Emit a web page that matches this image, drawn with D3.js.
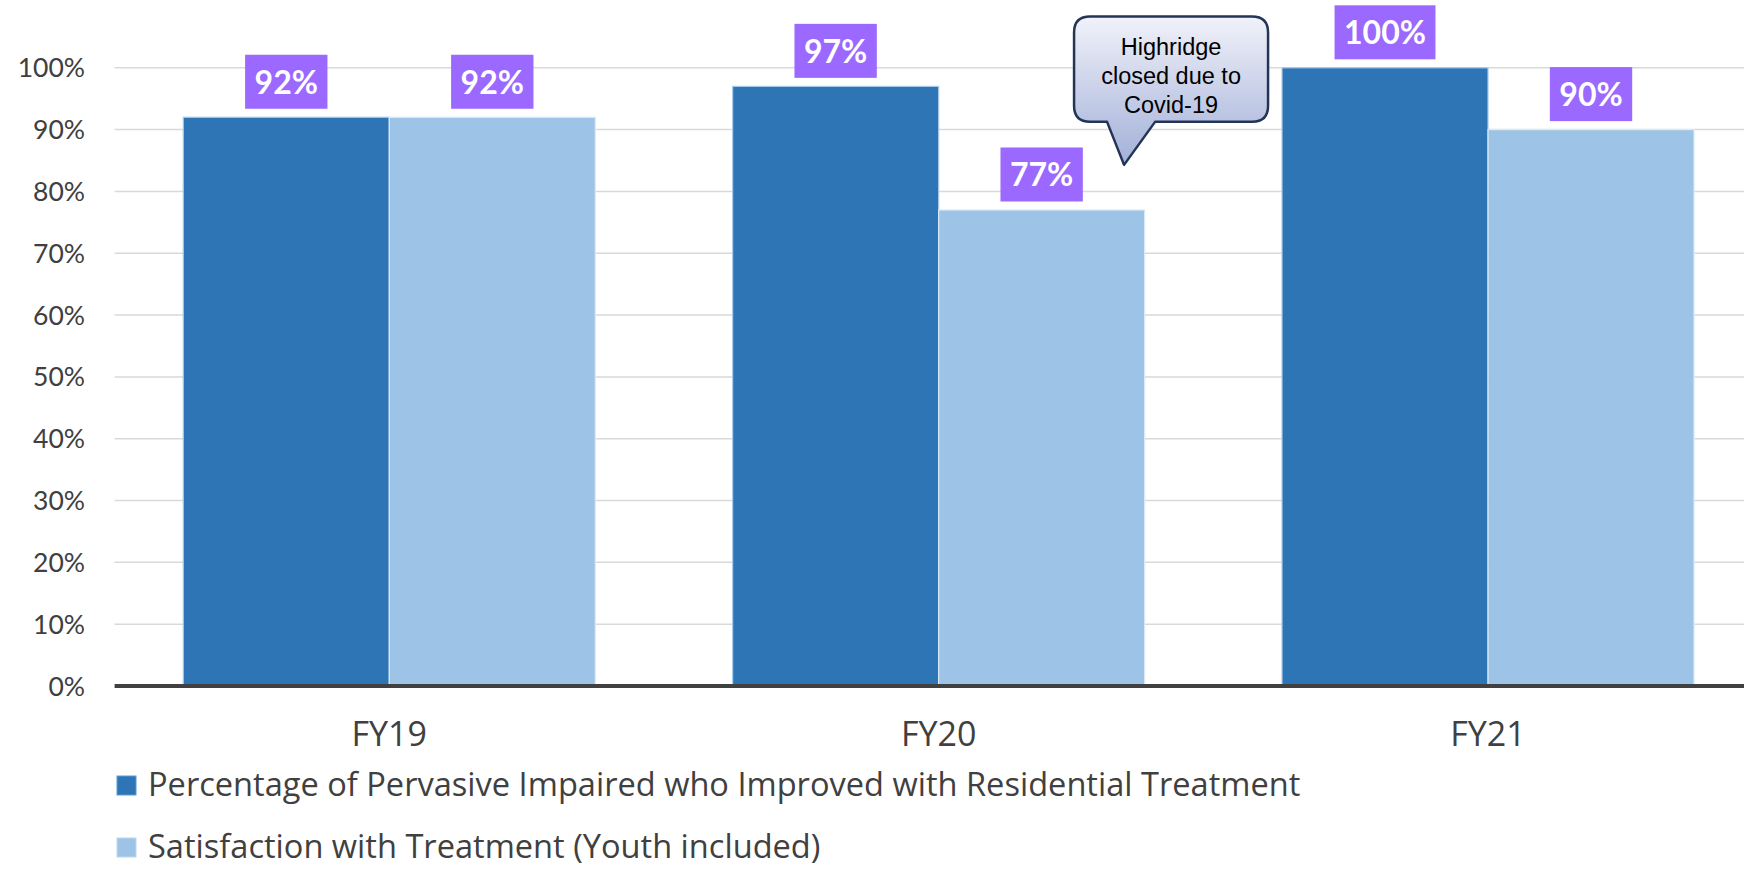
<!DOCTYPE html>
<html><head><meta charset="utf-8">
<script src="https://cdn.jsdelivr.net/npm/d3@7"></script>
<style>body{margin:0;background:#fff;} svg{display:block;}</style>
</head><body>
<svg id="chart" width="1744" height="869"></svg>
<script>
// ---- data ----
const categories = ["FY19", "FY20", "FY21"];
const seriesNames = [
  "Percentage of Pervasive Impaired who Improved with Residential Treatment",
  "Satisfaction with Treatment (Youth included)"
];
const improvedValues = [92, 97, 100];
const satisfactionValues = [92, 77, 90];
const yTicks = [0, 10, 20, 30, 40, 50, 60, 70, 80, 90, 100];
const seriesColors = ["#2E75B6", "#9DC3E6"];
const calloutLines = ["Highridge", "closed due to", "Covid-19"];
const calloutAnchor = { category: "FY20", series: 1, value: 84.3 };

// ---- layout ----
const W = 1744, H = 869;
const plot = { left: 114.6, right: 1762.7, top: 67.8, bottom: 686 };
const font = "Lato, 'Open Sans', sans-serif";
const font2 = "'Open Sans', Lato, sans-serif";
const textColor = "#404040";

const svg = d3.select("#chart");
const seriesValues = [improvedValues, satisfactionValues];

const x0 = d3.scaleBand().domain(categories).range([plot.left, plot.right])
  .paddingInner(0.25).paddingOuter(0.125);
const x1 = d3.scaleBand().domain(d3.range(seriesNames.length)).range([0, x0.bandwidth()]);
const y = d3.scaleLinear().domain([0, 100]).range([plot.bottom, plot.top]);

// gridlines
svg.append("g").selectAll("line").data(yTicks.filter(t => t > 0)).join("line")
  .attr("x1", plot.left).attr("x2", plot.right)
  .attr("y1", d => y(d)).attr("y2", d => y(d))
  .attr("stroke", "#D9D9D9").attr("stroke-width", 1.5);

// y tick labels
svg.append("g").selectAll("text").data(yTicks).join("text")
  .attr("x", plot.left - 29.5).attr("y", d => y(d) + 9.5)
  .attr("text-anchor", "end")
  .attr("font-family", font).attr("font-size", 26.5).attr("fill", textColor)
  .text(d => d + "%");

// bars
const rows = [];
categories.forEach((c, i) => seriesValues.forEach((vals, s) => rows.push({ c, s, v: vals[i] })));

svg.append("g").selectAll("rect").data(rows).join("rect")
  .attr("x", d => x0(d.c) + x1(d.s))
  .attr("y", d => y(d.v))
  .attr("width", x1.bandwidth())
  .attr("height", d => y(0) - y(d.v))
  .attr("fill", d => seriesColors[d.s])
  .attr("stroke", d => d.s === 0 ? "#A9CBEA" : "#DCEAF7")
  .attr("stroke-width", 1.2);

// baseline axis
svg.append("line")
  .attr("x1", plot.left).attr("x2", plot.right)
  .attr("y1", y(0)).attr("y2", y(0))
  .attr("stroke", "#404040").attr("stroke-width", 4);

// x labels
svg.append("g").selectAll("text").data(categories).join("text")
  .attr("x", d => x0(d) + x0.bandwidth() / 2)
  .attr("y", y(0) + 59.7)
  .attr("text-anchor", "middle")
  .attr("font-family", font2).attr("font-size", 34).attr("fill", textColor)
  .text(d => d);

// data labels
const lab = svg.append("g").selectAll("g").data(rows).join("g");
lab.each(function (d) {
  const g = d3.select(this);
  const cx = x0(d.c) + x1(d.s) + x1.bandwidth() / 2;
  const boxBottom = y(d.v) - 8.5;
  const boxTop = boxBottom - 54;
  const rect = g.append("rect").attr("fill", "#9B69FF");
  const t = g.append("text")
    .attr("x", cx).attr("y", boxTop + 38.8)
    .attr("text-anchor", "middle")
    .attr("font-family", font).attr("font-weight", "bold")
    .attr("font-size", 32).attr("fill", "#fff")
    .text(d.v + "%");
  const tw = t.node().getComputedTextLength();
  rect.attr("x", cx - tw / 2 - 9.5).attr("y", boxTop)
    .attr("width", tw + 19).attr("height", 54);
});

// legend
const legend = svg.append("g").selectAll("g").data(seriesNames).join("g")
  .attr("transform", (d, i) => `translate(117,${776 + i * 62})`);
legend.append("rect").attr("width", 19).attr("height", 19)
  .attr("fill", (d, i) => seriesColors[i])
  .attr("stroke", (d, i) => i === 0 ? "#5B9BD5" : "#BDD7EE").attr("stroke-width", 1);
legend.append("text").attr("x", 31).attr("y", 19.5)
  .attr("font-family", font2).attr("font-size", 32.6).attr("fill", textColor)
  .text(d => d);

// callout
const defs = svg.append("defs");
const grad = defs.append("linearGradient").attr("id", "calloutGrad")
  .attr("x1", 0).attr("y1", 0).attr("x2", 0).attr("y2", 1);
grad.append("stop").attr("offset", "0%").attr("stop-color", "#F1F2F9");
grad.append("stop").attr("offset", "70%").attr("stop-color", "#B9C3E2");
grad.append("stop").attr("offset", "100%").attr("stop-color", "#A4B1D8");

const tipX = x0(calloutAnchor.category) + x1(calloutAnchor.series) + x1.bandwidth() * 0.9;
const tipY = y(calloutAnchor.value);
const L = tipX - 50, R = tipX + 144, T = tipY - 148.3, B = tipY - 43, r = 16;
const bl = tipX - 17, br = tipX + 31;
const p = d3.path();
p.moveTo(L + r, T);
p.lineTo(R - r, T);
p.quadraticCurveTo(R, T, R, T + r);
p.lineTo(R, B - r);
p.quadraticCurveTo(R, B, R - r, B);
p.lineTo(br, B);
p.lineTo(tipX, tipY);
p.lineTo(bl, B);
p.lineTo(L + r, B);
p.quadraticCurveTo(L, B, L, B - r);
p.lineTo(L, T + r);
p.quadraticCurveTo(L, T, L + r, T);
p.closePath();
svg.append("path").attr("d", p.toString())
  .attr("fill", "url(#calloutGrad)")
  .attr("stroke", "#243457").attr("stroke-width", 2.5).attr("stroke-linejoin", "round");

svg.append("g").selectAll("text").data(calloutLines).join("text")
  .attr("x", (L + R) / 2).attr("y", (d, i) => T + 38.5 + i * 29)
  .attr("text-anchor", "middle")
  .attr("font-family", "'Liberation Sans', Arial, sans-serif")
  .attr("font-size", 23.5).attr("fill", "#000")
  .text(d => d);
</script>
</body></html>
